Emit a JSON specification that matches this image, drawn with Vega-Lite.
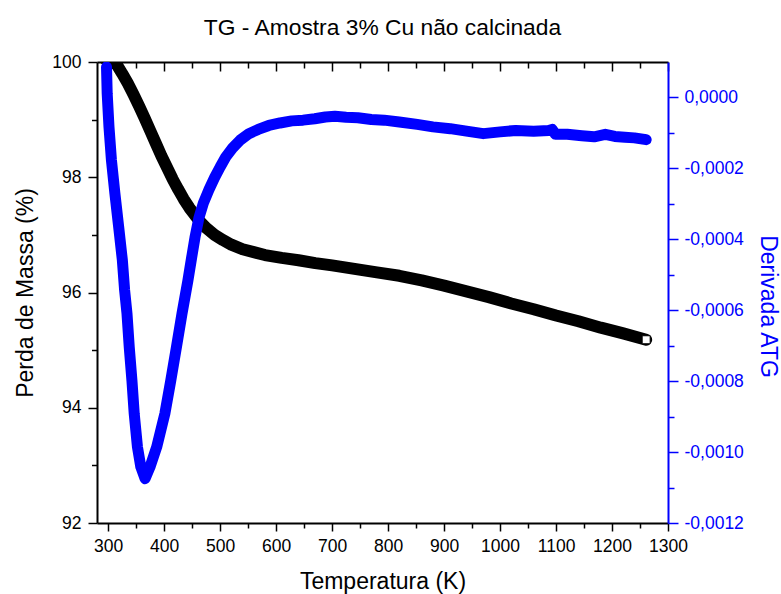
{
  "$schema": "https://vega.github.io/schema/vega-lite/v6.json",
  "width": 571,
  "height": 461,
  "autosize": {"type": "none"},
  "padding": {"left": 97, "top": 62, "right": 113, "bottom": 71},
  "background": "white",
  "title": {"text": "TG - Amostra 3% Cu não calcinada", "font": "Liberation Sans", "fontSize": 22.8, "fontWeight": "normal", "color": "black", "anchor": "middle", "offset": 13},
  "config": {
    "view": {"stroke": null},
    "axis": {"grid": false, "labelFont": "Liberation Sans", "titleFont": "Liberation Sans", "labelFontSize": 17.5, "titleFontSize": 23, "titleFontWeight": "normal", "labelColor": "black", "titleColor": "black", "domainColor": "black", "tickColor": "black", "domainWidth": 2, "tickWidth": 1.5, "labelFlush": false, "labelOverlap": false, "labelBound": false}
  },
  "datasets": {
    "tg": [
      {"T": 295, "mass": 100.05}, {"T": 305, "mass": 100.0}, {"T": 315, "mass": 99.96}, {"T": 325, "mass": 99.80},
      {"T": 335, "mass": 99.63}, {"T": 345, "mass": 99.44}, {"T": 355, "mass": 99.24}, {"T": 365, "mass": 99.03},
      {"T": 375, "mass": 98.81}, {"T": 385, "mass": 98.59}, {"T": 395, "mass": 98.37}, {"T": 405, "mass": 98.17},
      {"T": 415, "mass": 97.97}, {"T": 425, "mass": 97.79}, {"T": 435, "mass": 97.62}, {"T": 445, "mass": 97.47},
      {"T": 455, "mass": 97.34}, {"T": 465, "mass": 97.22}, {"T": 475, "mass": 97.12}, {"T": 490, "mass": 97.00},
      {"T": 505, "mass": 96.91}, {"T": 520, "mass": 96.83}, {"T": 540, "mass": 96.75}, {"T": 560, "mass": 96.70},
      {"T": 580, "mass": 96.65}, {"T": 610, "mass": 96.60}, {"T": 640, "mass": 96.56}, {"T": 670, "mass": 96.51},
      {"T": 700, "mass": 96.47}, {"T": 740, "mass": 96.41}, {"T": 780, "mass": 96.35}, {"T": 820, "mass": 96.29},
      {"T": 860, "mass": 96.21}, {"T": 900, "mass": 96.12}, {"T": 940, "mass": 96.02}, {"T": 980, "mass": 95.92},
      {"T": 1020, "mass": 95.81}, {"T": 1060, "mass": 95.71}, {"T": 1100, "mass": 95.60}, {"T": 1140, "mass": 95.50},
      {"T": 1180, "mass": 95.39}, {"T": 1220, "mass": 95.29}, {"T": 1261, "mass": 95.18}
    ],
    "dtg": [
      {"T": 297, "d": 0.000086}, {"T": 298.2, "d": 0.000011}, {"T": 301.4, "d": -0.000083}, {"T": 305.8, "d": -0.000177},
      {"T": 312, "d": -0.000271}, {"T": 318.7, "d": -0.000365}, {"T": 325.3, "d": -0.000459}, {"T": 329.3, "d": -0.000543},
      {"T": 333.6, "d": -0.000610}, {"T": 337.6, "d": -0.000704}, {"T": 342.4, "d": -0.000798}, {"T": 346.5, "d": -0.000892},
      {"T": 352.3, "d": -0.000986}, {"T": 358.3, "d": -0.001042}, {"T": 365.9, "d": -0.001075}, {"T": 374.7, "d": -0.001042},
      {"T": 386.6, "d": -0.000986}, {"T": 401.2, "d": -0.000892}, {"T": 411.8, "d": -0.000798}, {"T": 421.9, "d": -0.000704},
      {"T": 431.8, "d": -0.000610}, {"T": 442.4, "d": -0.000516}, {"T": 449, "d": -0.000452}, {"T": 455, "d": -0.000395},
      {"T": 462, "d": -0.000340}, {"T": 470, "d": -0.000298}, {"T": 480, "d": -0.000260}, {"T": 490, "d": -0.000226},
      {"T": 500, "d": -0.000196}, {"T": 510, "d": -0.000168}, {"T": 522, "d": -0.000143}, {"T": 536, "d": -0.000120},
      {"T": 551.4, "d": -0.000102}, {"T": 568, "d": -0.000090}, {"T": 587, "d": -0.000079}, {"T": 607, "d": -0.000072},
      {"T": 628, "d": -0.000066}, {"T": 648, "d": -0.000064}, {"T": 669, "d": -0.000060}, {"T": 688, "d": -0.000055},
      {"T": 705, "d": -0.000053}, {"T": 725, "d": -0.000056}, {"T": 746, "d": -0.000057}, {"T": 770, "d": -0.000062},
      {"T": 793, "d": -0.000064}, {"T": 820, "d": -0.000069}, {"T": 852, "d": -0.000076}, {"T": 880, "d": -0.000083},
      {"T": 911, "d": -0.000088}, {"T": 940, "d": -0.000095}, {"T": 970, "d": -0.000102}, {"T": 1000, "d": -0.000097},
      {"T": 1028, "d": -0.000093}, {"T": 1060, "d": -0.000095}, {"T": 1087, "d": -0.000093}, {"T": 1093, "d": -0.000090},
      {"T": 1099, "d": -0.000104}, {"T": 1120, "d": -0.000104}, {"T": 1146, "d": -0.000108}, {"T": 1168, "d": -0.000111},
      {"T": 1188, "d": -0.000104}, {"T": 1205, "d": -0.000110}, {"T": 1223, "d": -0.000112}, {"T": 1240, "d": -0.000114},
      {"T": 1261, "d": -0.000119}
    ]
  },
  "layer": [
    {
      "data": {"name": "tg"},
      "layer": [
        {
          "mark": {"type": "line", "color": "black", "strokeWidth": 12, "strokeCap": "round", "strokeJoin": "round", "clip": true},
          "encoding": {
            "x": {"field": "T", "type": "quantitative", "scale": {"domain": [280, 1300], "nice": false, "zero": false},
              "axis": {"orient": "bottom", "title": "Temperatura (K)", "values": [300, 350, 400, 450, 500, 550, 600, 650, 700, 750, 800, 850, 900, 950, 1000, 1050, 1100, 1150, 1200, 1250, 1300], "format": "d", "labelExpr": "datum.value % 100 == 0 ? datum.label : ''", "tickSize": {"condition": {"test": "datum.value % 100 == 0", "value": 8}, "value": 5}, "labelPadding": 6, "titlePadding": 16}},
            "y": {"field": "mass", "type": "quantitative", "scale": {"domain": [92, 100], "nice": false, "zero": false},
              "axis": {"orient": "left", "title": "Perda de Massa (%)", "values": [92, 93, 94, 95, 96, 97, 98, 99, 100], "format": "d", "labelExpr": "datum.value % 2 == 0 ? datum.label : ''", "tickSize": {"condition": {"test": "datum.value % 2 == 0", "value": 9}, "value": 5.5}, "labelPadding": 7, "titlePadding": 14}}
          }
        },
        {
          "transform": [{"filter": "datum.T == 1261"}],
          "mark": {"type": "point", "shape": "square", "filled": true, "fill": "white", "stroke": "black", "strokeWidth": 1, "size": 64, "opacity": 1},
          "encoding": {
            "x": {"field": "T", "type": "quantitative", "scale": {"domain": [280, 1300], "nice": false, "zero": false},
              "axis": {"orient": "bottom", "title": "Temperatura (K)", "values": [300, 350, 400, 450, 500, 550, 600, 650, 700, 750, 800, 850, 900, 950, 1000, 1050, 1100, 1150, 1200, 1250, 1300], "format": "d", "labelExpr": "datum.value % 100 == 0 ? datum.label : ''", "tickSize": {"condition": {"test": "datum.value % 100 == 0", "value": 8}, "value": 5}, "labelPadding": 6, "titlePadding": 16}},
            "y": {"field": "mass", "type": "quantitative", "scale": {"domain": [92, 100], "nice": false, "zero": false},
              "axis": {"orient": "left", "title": "Perda de Massa (%)", "values": [92, 93, 94, 95, 96, 97, 98, 99, 100], "format": "d", "labelExpr": "datum.value % 2 == 0 ? datum.label : ''", "tickSize": {"condition": {"test": "datum.value % 2 == 0", "value": 9}, "value": 5.5}, "labelPadding": 7, "titlePadding": 14}}
          }
        }
      ]
    },
    {
      "data": {"name": "dtg"},
      "mark": {"type": "line", "color": "#0000ff", "strokeWidth": 11, "strokeCap": "round", "strokeJoin": "round", "clip": true},
      "encoding": {
        "x": {"field": "T", "type": "quantitative", "scale": {"domain": [280, 1300], "nice": false, "zero": false},
          "axis": {"orient": "top", "title": null, "labels": false, "domain": true, "ticks": true, "values": [300, 350, 400, 450, 500, 550, 600, 650, 700, 750, 800, 850, 900, 950, 1000, 1050, 1100, 1150, 1200, 1250, 1300], "tickSize": {"condition": {"test": "datum.value % 100 == 0", "value": -9}, "value": -6}}},
        "y": {"field": "d", "type": "quantitative", "scale": {"domain": [-0.0012, 0.0001], "nice": false, "zero": false},
          "axis": {"orient": "right", "title": "Derivada ATG", "titleY": 244, "values": [-0.0012, -0.0011, -0.001, -0.0009, -0.0008, -0.0007, -0.0006, -0.0005, -0.0004, -0.0003, -0.0002, -0.0001, 0],
            "labelExpr": "abs(round(datum.value * 10000)) % 2 == 0 ? replace(replace(format(datum.value, '.4f'), '.', ','), '\u2212', '-') : ''",
            "tickSize": {"condition": {"test": "abs(round(datum.value * 10000)) % 2 == 0", "value": 10}, "value": 6}, "labelPadding": 6, "titlePadding": 12,
            "domainColor": "#0000ff", "tickColor": "#0000ff", "labelColor": "#0000ff", "titleColor": "#0000ff"}}
      }
    }
  ],
  "resolve": {"scale": {"y": "independent"}, "axis": {"x": "independent", "y": "independent"}}
}
